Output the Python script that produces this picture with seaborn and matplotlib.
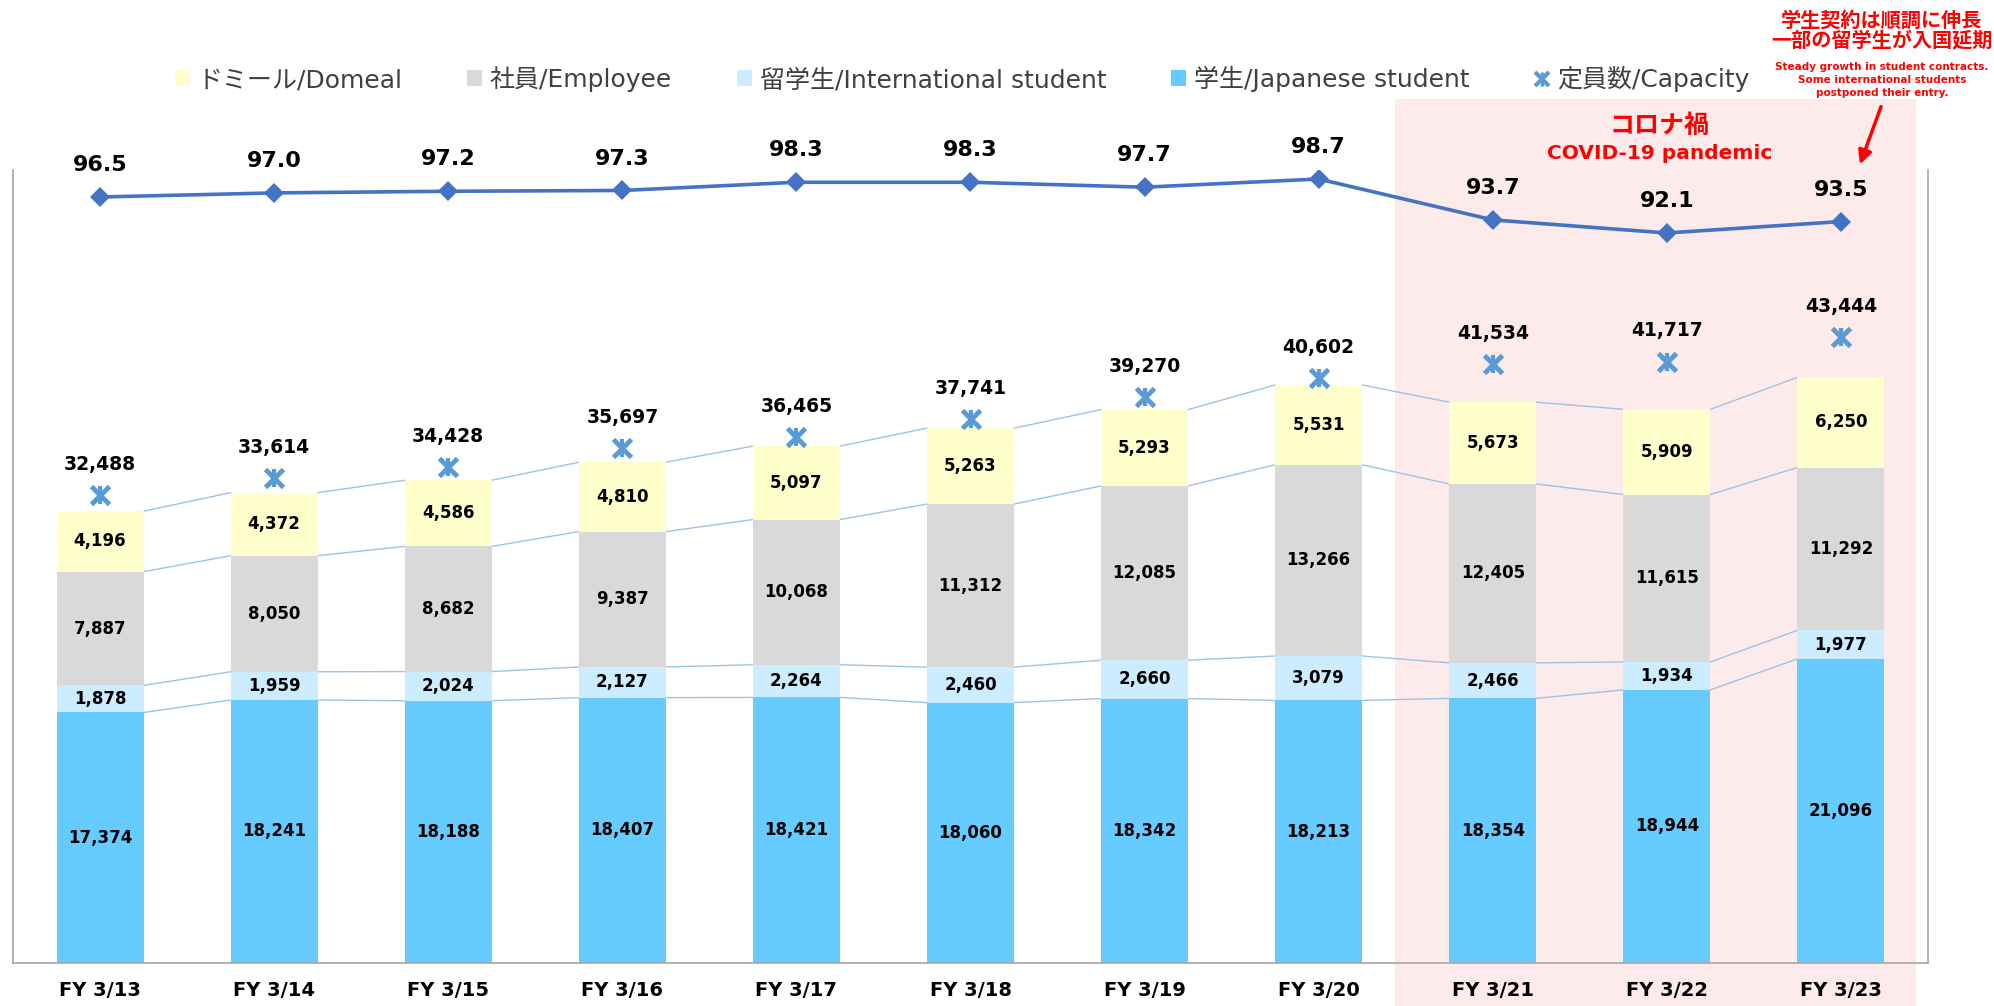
import numpy as np
import pandas as pd
import matplotlib
matplotlib.use("Agg")
import matplotlib.pyplot as plt
import seaborn as sns
from matplotlib.lines import Line2D
from matplotlib.patches import Patch
from matplotlib.legend_handler import HandlerTuple

# ---------------- data ----------------
fiscal_years = ["FY 3/13", "FY 3/14", "FY 3/15", "FY 3/16", "FY 3/17", "FY 3/18",
                "FY 3/19", "FY 3/20", "FY 3/21", "FY 3/22", "FY 3/23"]
japanese_students = [17374, 18241, 18188, 18407, 18421, 18060, 18342, 18213, 18354, 18944, 21096]
international_students = [1878, 1959, 2024, 2127, 2264, 2460, 2660, 3079, 2466, 1934, 1977]
employees = [7887, 8050, 8682, 9387, 10068, 11312, 12085, 13266, 12405, 11615, 11292]
domeal = [4196, 4372, 4586, 4810, 5097, 5263, 5293, 5531, 5673, 5909, 6250]
capacity = [32488, 33614, 34428, 35697, 36465, 37741, 39270, 40602, 41534, 41717, 43444]
occupancy_rate = [96.5, 97.0, 97.2, 97.3, 98.3, 98.3, 97.7, 98.7, 93.7, 92.1, 93.5]

segment_names = ["学生/Japanese student", "留学生/International student", "社員/Employee", "ドミール/Domeal"]
segment_colors = ["#66CCFF", "#CCECFF", "#D9D9D9", "#FFFFCC"]
capacity_label = "定員数/Capacity"

# ---------------- style ----------------
sns.set_theme(style="white")
plt.rcParams["font.family"] = "DejaVu Sans"
LAT = "DejaVu Sans"
CJK = ["Noto Sans CJK JP", "DejaVu Sans"]
MIX = ["DejaVu Sans", "Noto Sans CJK JP"]

fig = plt.figure(figsize=(19.94, 10.06), dpi=100)
ax = fig.add_axes([13 / 1994, 1 - 963 / 1006, (1928 - 13) / 1994, (963 - 170) / 1006])

segments = [japanese_students, international_students, employees, domeal]
cum = np.cumsum(np.array(segments, dtype=float), axis=0)
pos = np.arange(len(fiscal_years))
bar_w = 0.5

# pandemic shading
ax.axvspan(7.44, 10.43, ymin=-0.054, ymax=1.0895, color="#FDEAEA", zorder=0,
           clip_on=False, linewidth=0)

# stacked bars: draw cumulative totals from top to bottom
for k in reversed(range(len(segments))):
    df = pd.DataFrame({"fy": fiscal_years, "v": cum[k]})
    sns.barplot(data=df, x="fy", y="v", order=fiscal_years, color=segment_colors[k],
                saturation=1, width=bar_w, errorbar=None, linewidth=0, ax=ax, zorder=2)

# series connector lines
for k in range(len(segments)):
    for i in range(len(pos) - 1):
        ax.plot([pos[i] + bar_w / 2, pos[i + 1] - bar_w / 2], [cum[k][i], cum[k][i + 1]],
                color="#9DC3E6", lw=1, zorder=1.5)

# segment labels
for k in range(len(segments)):
    base = cum[k] - np.array(segments[k])
    for i in pos:
        ax.text(i, base[i] + segments[k][i] / 2, f"{segments[k][i]:,}", ha="center", va="center",
                fontsize=12, fontweight="bold", color="black", zorder=4, family=LAT)

# capacity markers
ax.plot(pos, capacity, linestyle="none", marker="x", ms=13, mew=3.5, color="#5B9BD5", zorder=5)
ax.plot(pos, capacity, linestyle="none", marker="|", ms=13, mew=3.0, color="#5B9BD5", zorder=5)
for i in pos:
    ax.annotate(f"{capacity[i]:,}", (i, capacity[i]), xytext=(0, 22), textcoords="offset points",
                ha="center", va="center", fontsize=13.5, fontweight="bold", color="black",
                family=LAT)

ax.set_xlim(-0.5, 10.5)
ax.set_ylim(0, 55000)
ax.set_yticks([])
ax.set_xlabel("")
ax.set_ylabel("")
ax.tick_params(axis="x", length=0, pad=13, labelsize=14)
for t in ax.get_xticklabels():
    t.set_fontweight("bold")
    t.set_color("black")
    t.set_family(LAT)
ax.spines["top"].set_visible(False)
for s in ["left", "right", "bottom"]:
    ax.spines[s].set_color("#A6A6A6")
    ax.spines[s].set_linewidth(1.2)

# occupancy line on twin axis
ax2 = ax.twinx()
occ_df = pd.DataFrame({"pos": pos, "occ": occupancy_rate})
sns.lineplot(data=occ_df, x="pos", y="occ", ax=ax2, color="#4472C4", linewidth=2.6,
             marker="D", markersize=10, markeredgewidth=0)
for i in pos:
    ax2.annotate(f"{occupancy_rate[i]:.1f}", (i, occupancy_rate[i]), xytext=(0, 23),
                 textcoords="offset points", ha="center", va="center", fontsize=16,
                 fontweight="bold", color="black", family=LAT)
ax2.set_ylim(2.86, 99.8)
ax2.set_xlim(-0.5, 10.5)
ax2.set_yticks([])
ax2.set_ylabel("")
ax2.set_xlabel("")
for s in ax2.spines.values():
    s.set_visible(False)

# pandemic text
ax.text(8.96, 1.0555, "コロナ禍", transform=ax.get_xaxis_transform(), ha="center", va="center",
        fontsize=18, fontweight="bold", color="#FF0000", family=CJK)
ax.text(8.96, 1.0202, "COVID-19 pandemic", transform=ax.get_xaxis_transform(), ha="center",
        va="center", fontsize=14.5, fontweight="bold", color="#FF0000", family=LAT)

# top-right annotation
fx = 1882 / 1994
fig.text(fx, 1 - 20 / 1006, "学生契約は順調に伸長", ha="center", va="center", fontsize=14.5,
         fontweight="bold", color="#FF0000", family=CJK)
fig.text(fx, 1 - 40 / 1006, "一部の留学生が入国延期", ha="center", va="center", fontsize=14.5,
         fontweight="bold", color="#FF0000", family=CJK)
for txt, yy in [("Steady growth in student contracts.", 67), ("Some international students", 80),
                ("postponed their entry.", 93)]:
    fig.text(fx, 1 - yy / 1006, txt, ha="center", va="center", fontsize=7.5,
             fontweight="bold", color="#FF0000", family=LAT)
ax.annotate("", xy=(1859 / 1994, 1 - 167 / 1006), xycoords="figure fraction",
            xytext=(1882 / 1994, 1 - 104 / 1006), textcoords="figure fraction",
            arrowprops=dict(arrowstyle="-|>", color="#FF0000", lw=2.5, mutation_scale=20))

# legend
handles = [Patch(facecolor=segment_colors[3], edgecolor="none"),
           Patch(facecolor=segment_colors[2], edgecolor="none"),
           Patch(facecolor=segment_colors[1], edgecolor="none"),
           Patch(facecolor=segment_colors[0], edgecolor="none"),
           (Line2D([], [], linestyle="none", marker="x", ms=10, mew=3, color="#5B9BD5"),
            Line2D([], [], linestyle="none", marker="|", ms=10, mew=2.5, color="#5B9BD5"))]
labels = [segment_names[3], segment_names[2], segment_names[1], segment_names[0], capacity_label]
fig.legend(handles, labels, loc="center", bbox_to_anchor=(962 / 1994, 1 - 79 / 1006), ncol=5,
           frameon=False, prop=dict(family=MIX, size=18), labelcolor="#404040",
           handlelength=0.6, handleheight=0.6, handletextpad=0.3, columnspacing=2.6,
           handler_map={tuple: HandlerTuple(ndivide=1)})

fig.savefig("out.png", dpi=100)
